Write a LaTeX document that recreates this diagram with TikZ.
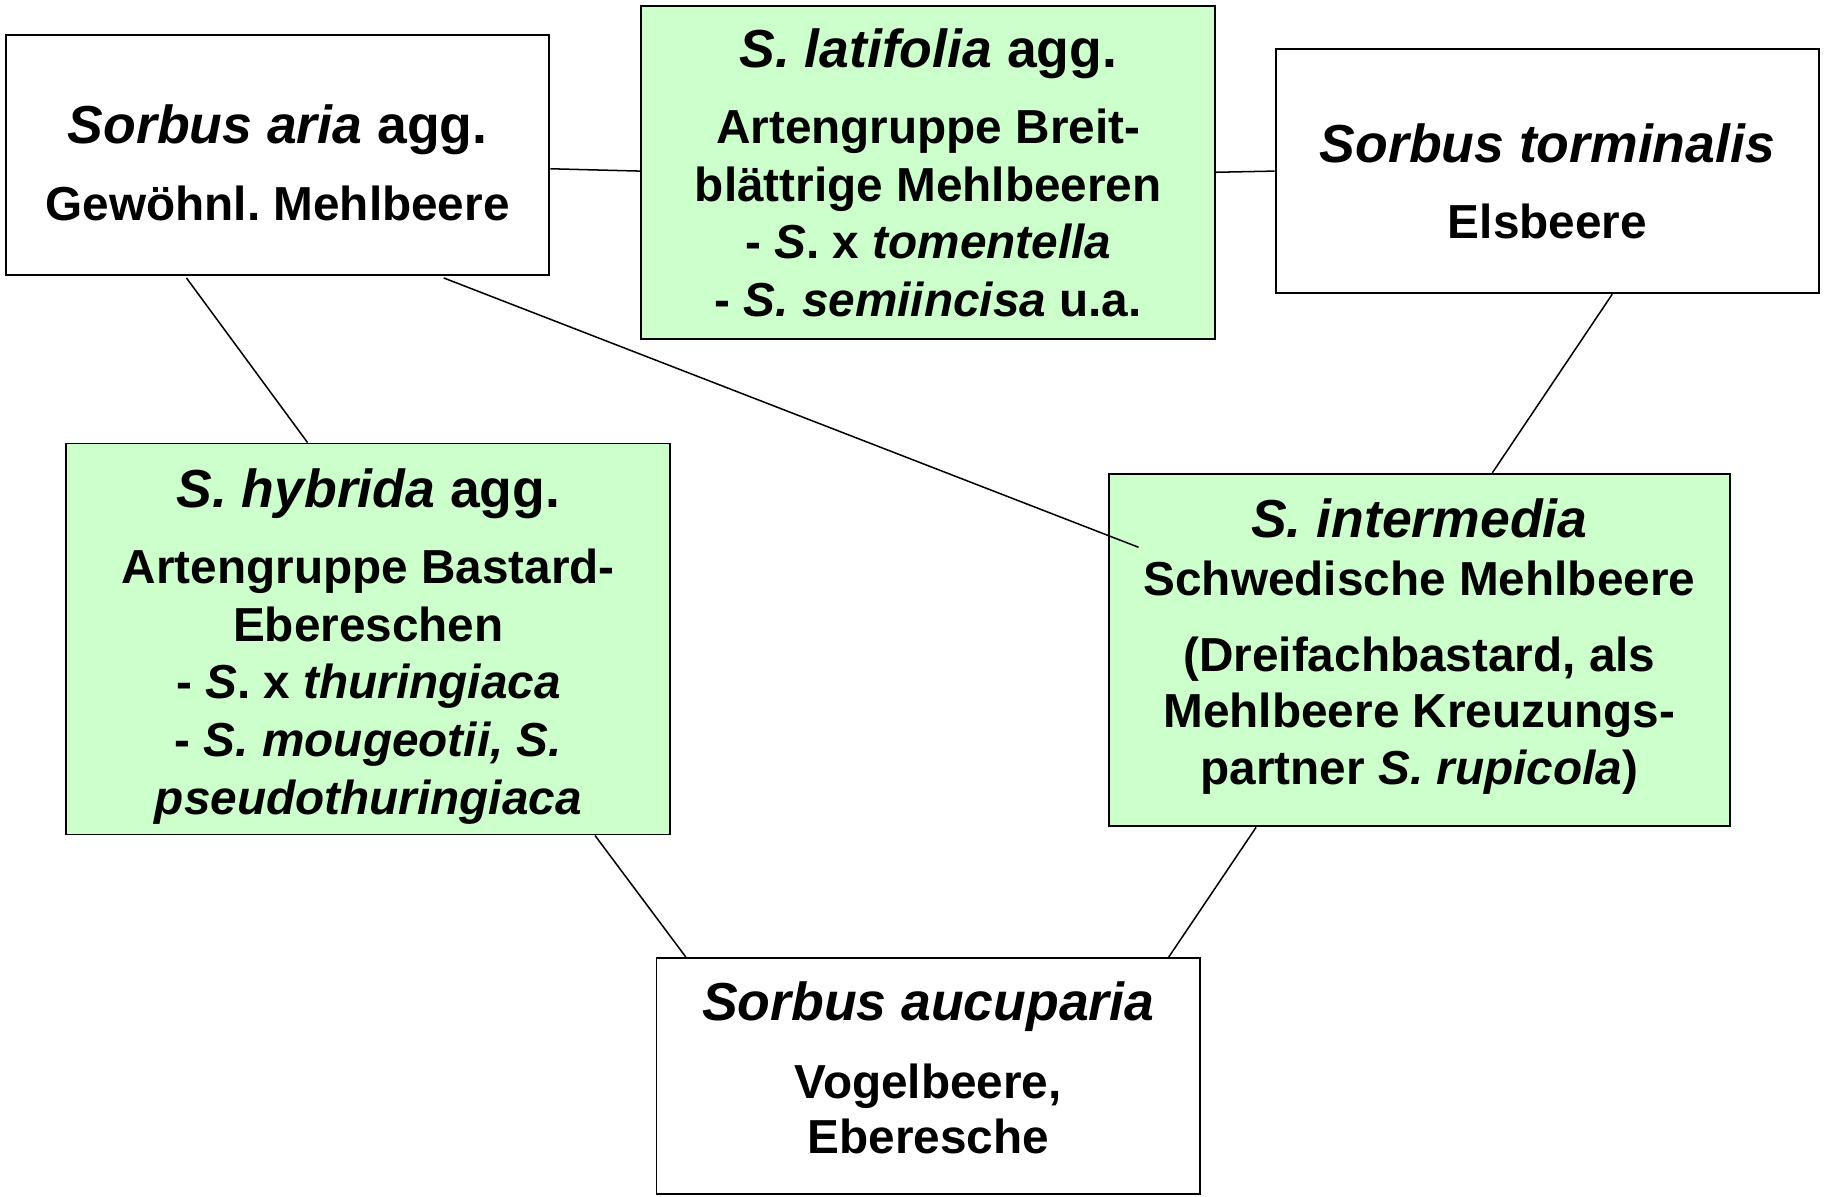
\documentclass[tikz,border=0pt]{standalone}
\usepackage{fontspec}
\setmainfont{Liberation Sans}
\frenchspacing
\definecolor{boxgreen}{RGB}{204,255,204}
\newcommand\ttl[1]{{\fontsize{46}{54}\selectfont #1}}
\tikzset{
  box/.style={draw=black, line width=1.6pt, inner sep=0pt, anchor=center},
  gbox/.style={box, fill=boxgreen},
  txt/.style={align=center, inner sep=0pt, anchor=center,
    font=\bfseries\fontsize{41}{49.5}\selectfont\frenchspacing},
  link/.style={draw=black, line width=1.3pt},
}
\begin{document}
\begin{tikzpicture}[x=1pt, y=-1pt]
\useasboundingbox (0,0) rectangle (1568,1028);
% boxes
\node[box,  minimum width=467pt, minimum height=206pt] (aria)   at (238.5,133)   {};
\node[gbox, minimum width=493pt, minimum height=286pt] (lati)   at (797.5,148)   {};
\node[box,  minimum width=467pt, minimum height=210pt] (torm)   at (1329.5,147)  {};
\node[gbox, minimum width=519pt, minimum height=336pt] (hybr)   at (316.5,549)   {};
\node[gbox, minimum width=533pt, minimum height=303pt] (inter)  at (1219.5,558.5){};
\node[box,  minimum width=467pt, minimum height=203pt] (aucu)   at (797.5,924.5) {};
% texts
\node[txt] (ariaT) at (238.5,140) {\ttl{\textit{Sorbus aria} agg.}\\[16.5pt] Gewöhnl. Mehlbeere};
\node[txt] (latiT) at (797.5,148.5) {\ttl{\textit{S. latifolia} agg.}\\[15.5pt]
  Artengruppe Breit-\\ blättrige Mehlbeeren\\ - \textit{S}. x \textit{tomentella}\\ - \textit{S. semiincisa} u.a.};
\node[txt] (tormT) at (1329.5,156) {\ttl{\textit{Sorbus torminalis}}\\[15.5pt] Elsbeere};
\node[txt] (hybrT) at (316.5,555.5) {\ttl{\textit{S. hybrida} agg.}\\[15.5pt]
  Artengruppe Bastard-\\ Ebereschen\\ - \textit{S}. x \textit{thuringiaca}\\ - \textit{S. mougeotii, S.}\\ \textit{pseudothuringiaca}};
\node[txt] (interT) at (1219.5,555.5) {\ttl{\textit{S. intermedia}}\\ Schwedische Mehlbeere\\[15.5pt]
  (Dreifachbastard, als\\[-1pt] Mehlbeere Kreuzungs-\\[-1pt] partner \textit{S. rupicola})};
\node[txt] (aucuT) at (797.5,917.5) {\ttl{\textit{Sorbus aucuparia}}\\[17.5pt] Vogelbeere,\\[-1.5pt] Eberesche};
% connectors
\draw[link] ([yshift=-12pt]aria.east) -- ([yshift=1pt]lati.west);
\draw[link] (lati.east) -- (torm.west);
\draw[link] ([xshift=156pt,yshift=-2pt]aria.south west) -- ([xshift=208pt]hybr.north west);
\draw[link] ([xshift=377pt,yshift=-2pt]aria.south west) -- ([xshift=26pt,yshift=-64pt]inter.north west);
\draw[link] ([xshift=290pt]torm.south west) -- ([xshift=330pt]inter.north west);
\draw[link] ([xshift=455pt]hybr.south west) -- ([xshift=26pt]aucu.north west);
\draw[link] ([xshift=127pt]inter.south west) -- ([xshift=441pt]aucu.north west);
\end{tikzpicture}
\end{document}
